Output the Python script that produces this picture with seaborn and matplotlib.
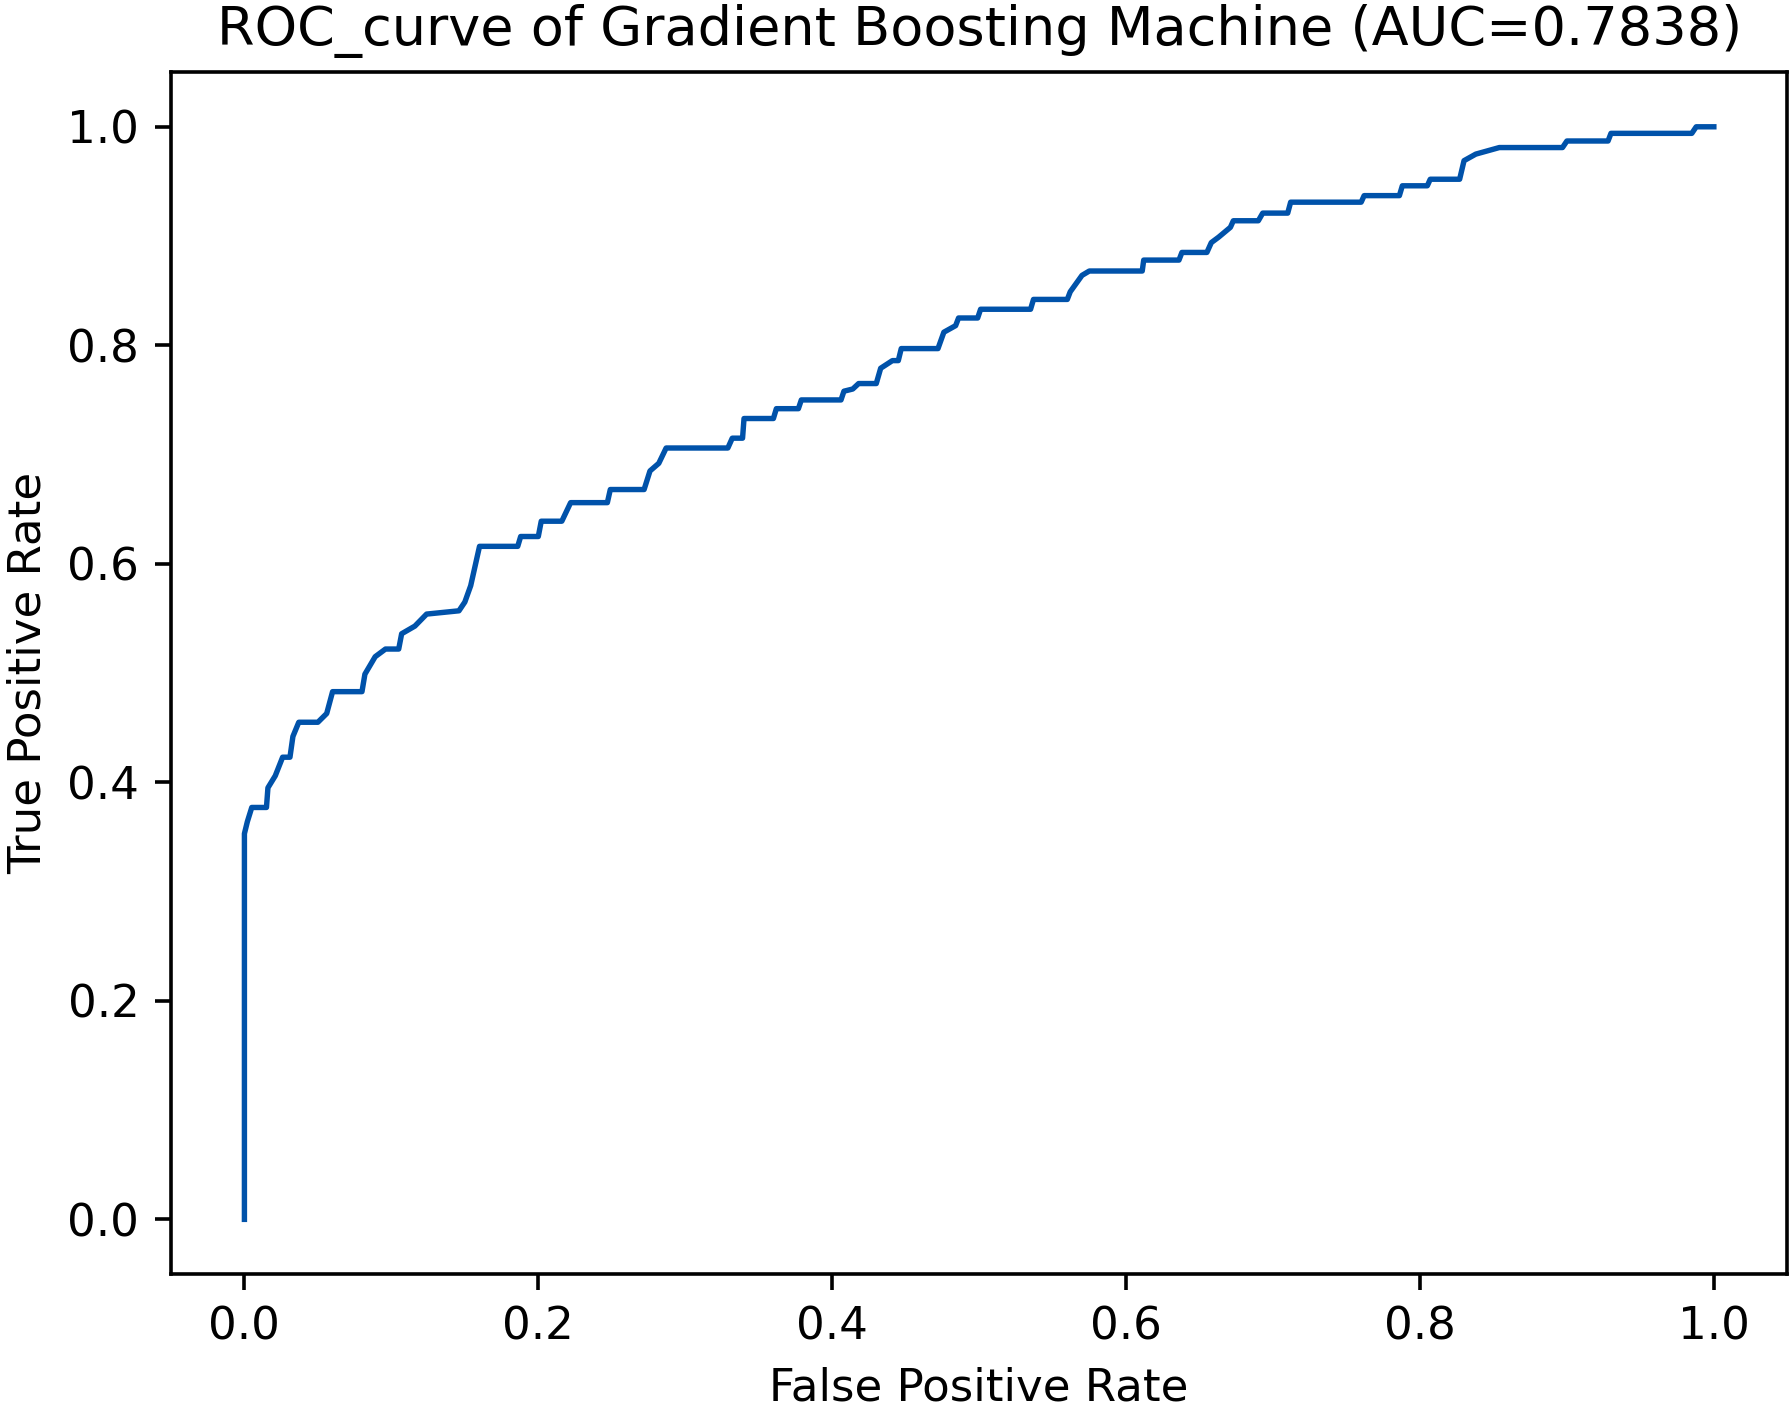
import numpy as np
import pandas as pd
import matplotlib
matplotlib.use("Agg")
import matplotlib.pyplot as plt
import seaborn as sns

# pontos da curva ROC
fpr = [0.000, 0.000, 0.002, 0.005, 0.015, 0.016, 0.021, 0.026, 0.031, 0.033,
       0.037, 0.050, 0.056, 0.060, 0.080, 0.082, 0.089, 0.096, 0.105, 0.107,
       0.116, 0.124, 0.146, 0.150, 0.154, 0.157, 0.160, 0.186, 0.188, 0.200,
       0.202, 0.216, 0.222, 0.247, 0.249, 0.272, 0.276, 0.282, 0.287, 0.329,
       0.332, 0.339, 0.340, 0.360, 0.362, 0.377, 0.379, 0.406, 0.408, 0.414,
       0.418, 0.430, 0.433, 0.441, 0.445, 0.447, 0.472, 0.476, 0.484, 0.486,
       0.499, 0.501, 0.535, 0.537, 0.560, 0.562, 0.570, 0.575, 0.611, 0.612,
       0.636, 0.638, 0.655, 0.658, 0.663, 0.671, 0.673, 0.690, 0.693, 0.710,
       0.712, 0.760, 0.762, 0.786, 0.788, 0.805, 0.807, 0.827, 0.830, 0.838,
       0.854, 0.897, 0.900, 0.928, 0.930, 0.985, 0.988, 1.000]
tpr = [0.000, 0.353, 0.364, 0.377, 0.377, 0.395, 0.406, 0.423, 0.423, 0.442,
       0.455, 0.455, 0.463, 0.483, 0.483, 0.499, 0.515, 0.522, 0.522, 0.536,
       0.543, 0.554, 0.557, 0.565, 0.580, 0.598, 0.616, 0.616, 0.625, 0.625,
       0.639, 0.639, 0.656, 0.656, 0.668, 0.668, 0.685, 0.692, 0.706, 0.706,
       0.715, 0.715, 0.733, 0.733, 0.742, 0.742, 0.750, 0.750, 0.758, 0.760,
       0.765, 0.765, 0.779, 0.786, 0.786, 0.797, 0.797, 0.812, 0.818, 0.825,
       0.825, 0.833, 0.833, 0.842, 0.842, 0.849, 0.864, 0.868, 0.868, 0.878,
       0.878, 0.885, 0.885, 0.894, 0.899, 0.908, 0.914, 0.914, 0.921, 0.921,
       0.931, 0.931, 0.937, 0.937, 0.946, 0.946, 0.952, 0.952, 0.969, 0.975,
       0.981, 0.981, 0.987, 0.987, 0.994, 0.994, 1.000, 1.000]
auc = 0.7838
model_name = "Gradient Boosting Machine"

df = pd.DataFrame({"fpr": fpr, "tpr": tpr})

dpi = 325
fig = plt.figure(figsize=(1790 / dpi, 1404 / dpi), dpi=dpi)
ax = fig.add_axes([0.0955, 0.0926, 0.903, 0.856])

sns.lineplot(data=df, x="fpr", y="tpr", sort=False, estimator=None,
             color="#0052aa", linewidth=1.2, ax=ax)

ax.set_title(f"ROC_curve of {model_name} (AUC={auc})", fontsize=12)
ax.set_xlabel("False Positive Rate")
ax.set_ylabel("True Positive Rate")

fig.savefig("out.png", dpi=dpi)
